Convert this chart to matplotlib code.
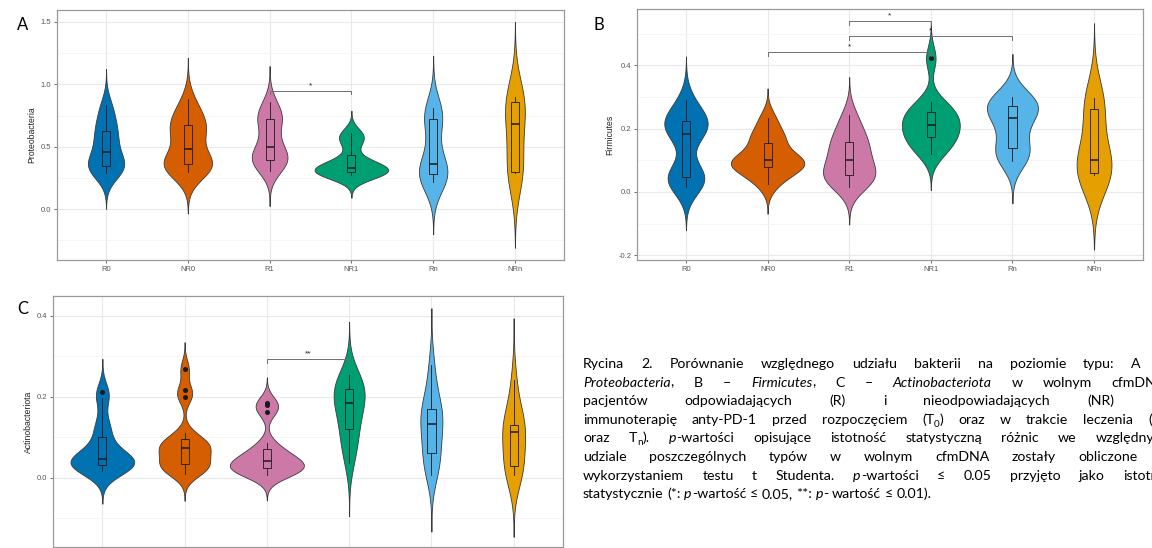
import re
import numpy as np
import matplotlib.pyplot as plt
from matplotlib.ticker import FixedLocator

W, H = 1152, 548

groups = ['R0', 'NR0', 'R1', 'NR1', 'Rn', 'NRn']
colors = ['#0072B2', '#D55E00', '#CC79A7', '#009E73', '#56B4E9', '#E69F00']

# panel A - Proteobacteria (relative abundance per patient)
proteo = [
    [0.29, 0.31, 0.33, 0.35, 0.38, 0.42, 0.50, 0.55, 0.62, 0.66, 0.75, 0.835],
    [0.295, 0.31, 0.33, 0.35, 0.36, 0.37, 0.38, 0.39, 0.40, 0.56, 0.58, 0.62, 0.65, 0.68, 0.71, 0.75, 0.80, 0.883],
    [0.309, 0.36, 0.39, 0.40, 0.43, 0.47, 0.53, 0.62, 0.72, 0.74, 0.76, 0.862],
    [0.271, 0.28, 0.29, 0.30, 0.31, 0.32, 0.345, 0.36, 0.40, 0.52, 0.58, 0.609],
    [0.218, 0.24, 0.27, 0.28, 0.30, 0.34, 0.38, 0.55, 0.71, 0.75, 0.77, 0.809],
    [0.29, 0.29, 0.295, 0.30, 0.45, 0.62, 0.74, 0.76, 0.86, 0.87, 0.88, 0.90],
]
proteo_bw = [0.096, 0.11, 0.095, 0.06, 0.14, 0.2]

# panel B - Firmicutes
firmi = [
    [0.017, 0.03, 0.045, 0.05, 0.07, 0.17, 0.195, 0.20, 0.22, 0.235, 0.24, 0.29],
    [0.024, 0.055, 0.072, 0.08, 0.092, 0.098, 0.104, 0.11, 0.15, 0.17, 0.19, 0.234],
    [0.017, 0.03, 0.05, 0.055, 0.06, 0.09, 0.11, 0.13, 0.155, 0.17, 0.20, 0.243],
    [0.12, 0.14, 0.16, 0.177, 0.19, 0.205, 0.22, 0.235, 0.25, 0.262, 0.285, 0.422],
    [0.099, 0.11, 0.13, 0.14, 0.19, 0.22, 0.25, 0.26, 0.27, 0.28, 0.29, 0.301],
    [0.055, 0.055, 0.056, 0.06, 0.075, 0.09, 0.11, 0.15, 0.26, 0.27, 0.285, 0.296],
]
firmi_bw = [0.046, 0.031, 0.04, 0.038, 0.045, 0.079]

# panel C - Actinobacteriota
actino = [
    [0.017, 0.022, 0.027, 0.03, 0.033, 0.036, 0.04, 0.045, 0.05, 0.056, 0.065, 0.095, 0.115, 0.14, 0.198, 0.213],
    [0.009, 0.018, 0.026, 0.03, 0.034, 0.045, 0.058, 0.068, 0.077, 0.081, 0.085, 0.09, 0.11, 0.2, 0.216, 0.269],
    [0.007, 0.012, 0.016, 0.02, 0.024, 0.028, 0.032, 0.038, 0.044, 0.05, 0.058, 0.068, 0.085, 0.162, 0.18, 0.185],
    [0.037, 0.07, 0.095, 0.115, 0.135, 0.16, 0.178, 0.19, 0.2, 0.21, 0.222, 0.232, 0.244, 0.253],
    [0.008, 0.03, 0.05, 0.065, 0.1, 0.125, 0.14, 0.155, 0.165, 0.18, 0.22, 0.278],
    [0.007, 0.015, 0.025, 0.03, 0.06, 0.105, 0.12, 0.125, 0.128, 0.135, 0.18, 0.241],
]
actino_bw = [0.027, 0.022, 0.021, 0.044, 0.047, 0.051]

# significance brackets: (group from, group to, height, label)
proteo_sig = [(3, 4, 0.947, '*')]
firmi_sig = [(3, 4, 0.541, '*'), (3, 5, 0.493, '*'), (2, 4, 0.443, '*')]
actino_sig = [(3, 4, 0.293, '**')]

caption = [
    "Rycina 2. Porównanie względnego udziału bakterii na poziomie typu: A –",
    "{Proteobacteria}, B – {Firmicutes}, C – {Actinobacteriota} w wolnym cfmDNA",
    "pacjentów odpowiadających (R) i nieodpowiadających (NR) na",
    "immunoterapię anty-PD-1 przed rozpoczęciem (T_0) oraz w trakcie leczenia (T_1",
    "oraz T_n). {p}-wartości opisujące istotność statystyczną różnic we względnym",
    "udziale poszczególnych typów w wolnym cfmDNA zostały obliczone z",
    "wykorzystaniem testu t Studenta. {p}-wartości ≤ 0.05 przyjęto jako istotne",
    "statystycznie (*: {p}-wartość ≤ 0.05, **: {p}- wartość ≤ 0.01).",
]

plt.rcParams['font.family'] = ['Liberation Sans', 'DejaVu Sans']


def add_axes(left, top, right, bottom):
    return fig.add_axes([left / W, 1 - bottom / H, (right - left) / W, (bottom - top) / H])


def panel(ax, data, bws, ylim, major, minor, ylabel, sig, tick, show_x=True):
    x = np.arange(1, len(data) + 1)
    curves = []
    for d, h in zip(data, bws):
        d = np.asarray(d)
        grid = np.linspace(d.min() - 3 * h, d.max() + 3 * h, 400)
        k = np.exp(-0.5 * ((grid[:, None] - d[None, :]) / h) ** 2).sum(1)
        # violin width scaled by number of observations (like scale = "count")
        k = k / (h * np.sqrt(2 * np.pi))
        curves.append((grid, k))
    top = max(k.max() for _, k in curves)
    for xi, (grid, k), c in zip(x, curves, colors):
        hw = 0.45 * k / top
        ax.fill_betweenx(grid, xi - hw, xi + hw, facecolor=c, edgecolor='#3a3a3a',
                         lw=0.6, zorder=2)
    bp = ax.boxplot(data, positions=x, widths=0.1, patch_artist=True, showcaps=False,
                    manage_ticks=False, zorder=3,
                    medianprops=dict(color='#1a1a1a', lw=1.1),
                    whiskerprops=dict(color='#1a1a1a', lw=0.6),
                    boxprops=dict(edgecolor='#1a1a1a', lw=0.6),
                    flierprops=dict(marker='o', markerfacecolor='#1a1a1a',
                                    markeredgecolor='#1a1a1a', markersize=2.6))
    for patch, c in zip(bp['boxes'], colors):
        patch.set_facecolor(c)

    for g1, g2, y, lab in sig:
        ax.plot([g1, g1, g2, g2], [y - tick, y, y, y - tick], color='#707070', lw=0.7, zorder=4)
        ax.text((g1 + g2) / 2, y + tick * 0.4, lab, ha='center', va='bottom',
                fontsize=6, color='#222222', zorder=5)

    ax.set_xlim(0.4, len(data) + 0.6)
    ax.set_ylim(*ylim)
    ax.set_xticks(x)
    ax.set_xticklabels(groups)
    ax.yaxis.set_major_locator(FixedLocator(major))
    ax.yaxis.set_minor_locator(FixedLocator(minor))
    ax.yaxis.set_major_formatter(plt.FuncFormatter(lambda v, p: f'{v:.1f}'))
    ax.set_axisbelow(True)
    ax.grid(which='major', color='#e9e9e9', lw=0.8)
    ax.grid(which='minor', axis='y', color='#f4f4f4', lw=0.6)
    ax.tick_params(which='major', length=2.5, width=0.6, color='#555555',
                   labelsize=5.5, labelcolor='#555555', pad=1.5)
    ax.tick_params(which='minor', length=0)
    if not show_x:
        # the source image is cropped just below this panel
        ax.tick_params(axis='x', labelbottom=False, length=0)
    for s in ax.spines.values():
        s.set_color('#9a9a9a')
        s.set_linewidth(0.9)
    ax.set_ylabel(ylabel, fontsize=6.2, color='#222222', labelpad=3)


fig = plt.figure(figsize=(W / 100, H / 100), dpi=100)

axA = add_axes(57, 10, 564, 260)
panel(axA, proteo, proteo_bw, (-0.408, 1.596), [0.0, 0.5, 1.0, 1.5],
      [-0.25, 0.25, 0.75, 1.25], 'Proteobacteria', proteo_sig, 0.025)

axB = add_axes(637, 9, 1143, 260)
panel(axB, firmi, firmi_bw, (-0.215, 0.578), [-0.2, 0.0, 0.2, 0.4],
      [-0.1, 0.1, 0.3, 0.5], 'Firmicutes', firmi_sig, 0.013)

axC = add_axes(53, 296, 563, 547)
panel(axC, actino, actino_bw, (-0.171, 0.449), [0.0, 0.2, 0.4],
      [-0.1, 0.1, 0.3], 'Actinobacteriota', actino_sig, 0.01, show_x=False)

letter_font = ['Lato', 'DejaVu Sans']
for lab, (px, py) in zip('ABC', [(23, 25), (599, 25), (23, 309)]):
    fig.text(px / W, 1 - py / H, lab, fontsize=12, family=letter_font, ha='center', va='center')

# justified caption, cut at the right edge like the source screenshot
cap_font = ['Lato', 'DejaVu Sans']
cap_size = 10.2
X0, X1 = 583, 1166
Y0, DY = 368, 18.6
renderer = fig.canvas.get_renderer()


def parse(word):
    segs = []
    for m in re.finditer(r'\{([^}]*)\}|_(\w)|([^{_]+)', word):
        if m.group(1) is not None:
            segs.append((m.group(1), 'italic'))
        elif m.group(2) is not None:
            segs.append((m.group(2), 'sub'))
        else:
            segs.append((m.group(3), 'normal'))
    return segs


def seg_kw(style):
    if style == 'sub':
        return dict(fontsize=cap_size * 0.7, style='normal')
    return dict(fontsize=cap_size, style=style)


def width(text, style):
    t = fig.text(0, 0, text, family=cap_font, **seg_kw(style))
    w = t.get_window_extent(renderer).width
    t.remove()
    return w


space = width('a a', 'normal') - width('aa', 'normal')
for i, line in enumerate(caption):
    words = [parse(w) for w in line.split(' ')]
    widths = [[width(t, s) for t, s in w] for w in words]
    total = sum(sum(w) for w in widths)
    if i < len(caption) - 1:
        gap = (X1 - X0 - total) / (len(words) - 1)
    else:
        gap = space
    x = X0
    y = Y0 + i * DY
    for w, ws in zip(words, widths):
        for (t, s), sw in zip(w, ws):
            yy = y + 3 if s == 'sub' else y
            fig.text(x / W, 1 - yy / H, t, family=cap_font, ha='left', va='baseline',
                     color='#000000', **seg_kw(s))
            x += sw
        x += gap

fig.savefig('out.png', dpi=100)
